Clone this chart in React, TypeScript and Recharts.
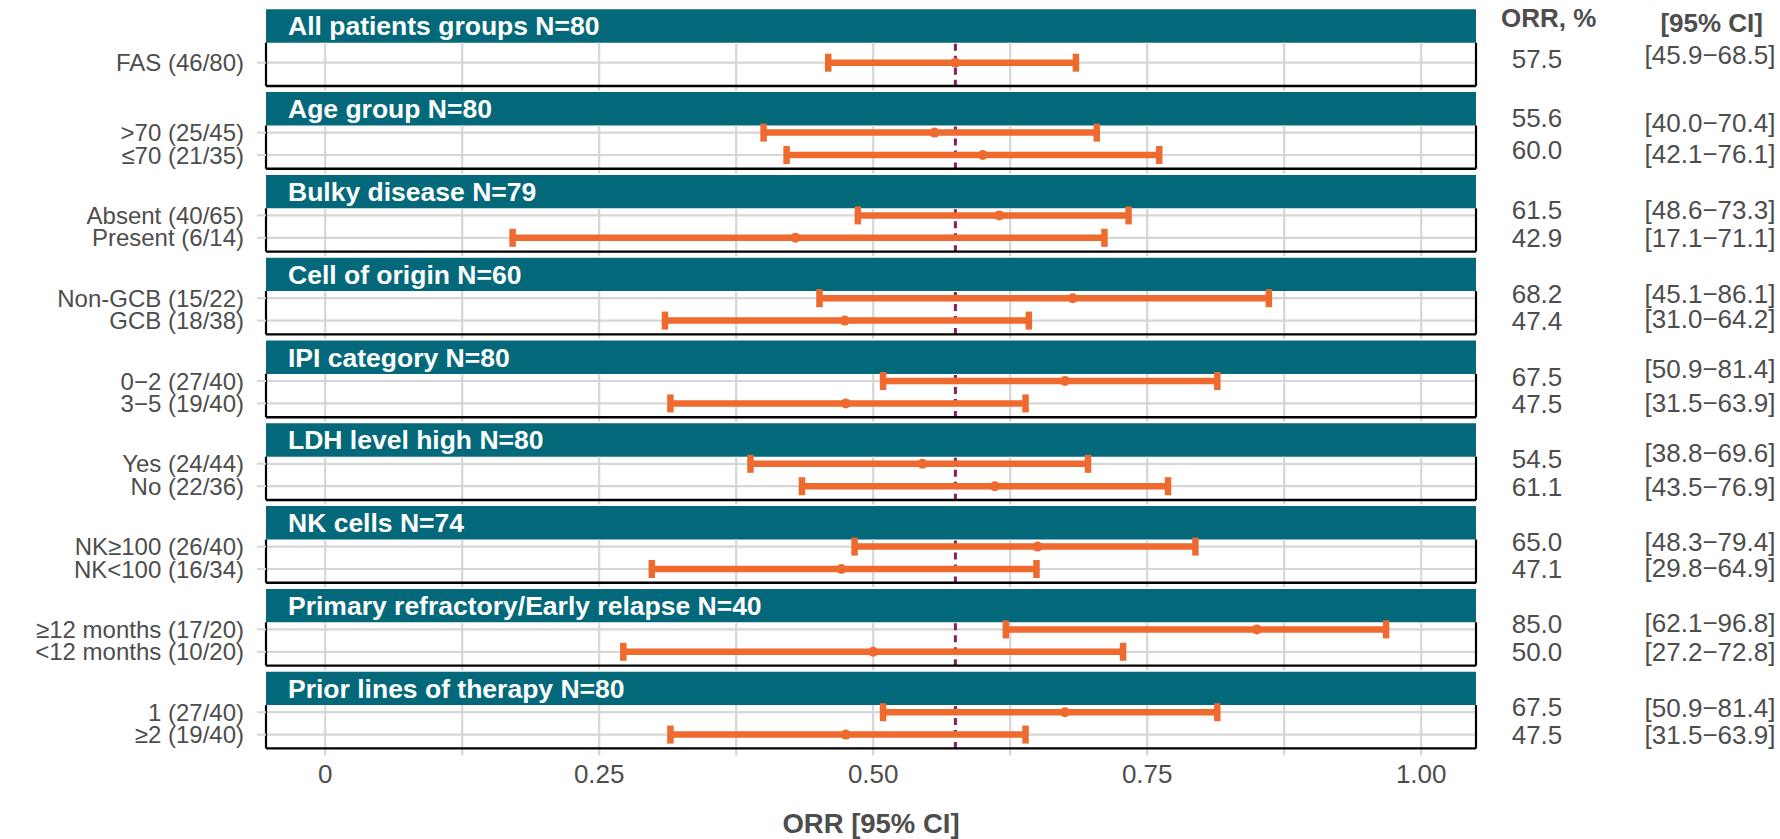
import React from 'react';
import {
  ComposedChart,
  XAxis,
  YAxis,
  Scatter,
  ErrorBar,
  ReferenceLine,
  ReferenceArea,
} from 'recharts';

// ---------------- data ----------------
const groupTitles = [
  'All patients groups N=80',
  'Age group N=80',
  'Bulky disease N=79',
  'Cell of origin N=60',
  'IPI category N=80',
  'LDH level high N=80',
  'NK cells N=74',
  'Primary refractory/Early relapse N=40',
  'Prior lines of therapy N=80',
];
const rowGroup = [0, 1, 1, 2, 2, 3, 3, 4, 4, 5, 5, 6, 6, 7, 7, 8, 8];
const rowLabels = [
  'FAS (46/80)',
  '>70 (25/45)',
  '≤70 (21/35)',
  'Absent (40/65)',
  'Present (6/14)',
  'Non-GCB (15/22)',
  'GCB (18/38)',
  '0−2 (27/40)',
  '3−5 (19/40)',
  'Yes (24/44)',
  'No (22/36)',
  'NK≥100 (26/40)',
  'NK<100 (16/34)',
  '≥12 months (17/20)',
  '<12 months (10/20)',
  '1 (27/40)',
  '≥2 (19/40)',
];
const orrPct = [57.5, 55.6, 60.0, 61.5, 42.9, 68.2, 47.4, 67.5, 47.5, 54.5, 61.1, 65.0, 47.1, 85.0, 50.0, 67.5, 47.5];
const ciLowPct = [45.9, 40.0, 42.1, 48.6, 17.1, 45.1, 31.0, 50.9, 31.5, 38.8, 43.5, 48.3, 29.8, 62.1, 27.2, 50.9, 31.5];
const ciHighPct = [68.5, 70.4, 76.1, 73.3, 71.1, 86.1, 64.2, 81.4, 63.9, 69.6, 76.9, 79.4, 64.9, 96.8, 72.8, 81.4, 63.9];
const xTicks = [0, 0.25, 0.5, 0.75, 1];
const xTickLabels = ['0', '0.25', '0.50', '0.75', '1.00'];
const xMinorTicks = [0.125, 0.375, 0.625, 0.875];
const overallOrr = 0.575;

// ---------------- layout / style ----------------
const FONT = '"Liberation Sans", Arial, Helvetica, sans-serif';
const TEXT = '#4D4D4D';
const GRID = '#D6D6D6';
const TEAL = '#03697A';
const ORANGE = '#EE6A2E';
const PURPLE = '#8B1C5E';

const W = 1780;
const H = 839;
const TOP = 9.3;
const LEFT_W = 266;
const RIGHT_W = 304;
const PANEL_STEP = 82.8;
const STRIP_H = 33.4;
const BODY_H = 43.3;
const PLOT_H = 8 * PANEL_STEP + STRIP_H + BODY_H;
const X_AXIS_H = H - TOP - PLOT_H;
const X_MIN = -0.054;
const X_MAX = 1.05;

const ROW_OFF_SINGLE = 20;
const ROW_OFF_DOUBLE = [7.1, 29.5];

// vertical nudges of the table text relative to its row (px)
const orrNudge = [-4.4, -15.3, -5, -6, 0, -4.3, 0, -4.3, 0, -5.4, 0, -5.4, 0, -5.4, 0, -5.4, 0];
const ciNudge = [-7.7, -9.7, -1, -6, 0, -4.3, -2.3, -12.2, -1.1, -11.1, 0, -5.4, -1.1, -6.5, 0, -4.3, 0];

const panelTop = (g: number) => g * PANEL_STEP;
const bodyTop = (g: number) => panelTop(g) + STRIP_H;
const bodyBottom = (g: number) => bodyTop(g) + BODY_H;

const rowY: number[] = rowLabels.map((_, i) => {
  const g = rowGroup[i];
  const members = rowGroup.map((gg, j) => (gg === g ? j : -1)).filter((j) => j >= 0);
  const pos = members.indexOf(i);
  if (members.length === 1) return bodyTop(g) + ROW_OFF_SINGLE;
  return bodyTop(g) + ROW_OFF_DOUBLE[pos];
});

const points = rowLabels.map((label, i) => {
  const est = orrPct[i] / 100;
  const lo = ciLowPct[i] / 100;
  const hi = ciHighPct[i] / 100;
  return { label, y: rowY[i], est, err: [est - lo, hi - est] };
});

const XTick = (props: any) => {
  const { x, payload, index } = props;
  const i = typeof index === 'number' ? index : xTicks.indexOf(payload.value);
  return (
    <text x={x} y={782.7} textAnchor="middle" fill={TEXT} fontSize={26} fontFamily={FONT}>
      {xTickLabels[i] ?? String(payload.value)}
    </text>
  );
};

const RightTick = (props: any) => {
  const { y, payload, index } = props;
  let i = rowY.indexOf(payload?.value);
  if (i < 0) i = index;
  const fs = 26;
  return (
    <g>
      {i === 0 && (
        <g>
          <text x={1548.7} y={26.7} textAnchor="middle" fill={TEXT} fontSize={26} fontWeight="bold" fontFamily={FONT}>
            ORR, %
          </text>
          <text x={1711.7} y={31.5} textAnchor="middle" fill={TEXT} fontSize={26} fontWeight="bold" fontFamily={FONT}>
            [95% CI]
          </text>
        </g>
      )}
      <text x={1537} y={y + orrNudge[i] + 0.358 * fs} textAnchor="middle" fill={TEXT} fontSize={fs} fontFamily={FONT}>
        {orrPct[i].toFixed(1)}
      </text>
      <text x={1710} y={y + ciNudge[i] + 0.358 * fs} textAnchor="middle" fill={TEXT} fontSize={fs} fontFamily={FONT}>
        {`[${ciLowPct[i].toFixed(1)}−${ciHighPct[i].toFixed(1)}]`}
      </text>
    </g>
  );
};

const Dot = (props: any) => {
  const { cx, cy } = props;
  if (cx == null || cy == null) return null;
  return <circle cx={cx} cy={cy} r={5} fill={ORANGE} />;
};

export default function App() {
  const groups = groupTitles.map((_, g) => g);
  const gridXs = [...xTicks, ...xMinorTicks];
  return (
    <div style={{ position: 'absolute', left: 0, top: 0, width: W, height: H, background: '#fff' }}>
      <ComposedChart width={W} height={H} margin={{ top: TOP, right: 0, bottom: 0, left: 0 }}>
        <XAxis
          type="number"
          dataKey="est"
          domain={[X_MIN, X_MAX]}
          allowDataOverflow
          ticks={xTicks}
          interval={0}
          axisLine={false}
          tickLine={false}
          height={X_AXIS_H}
          tick={<XTick />}
          label={{
            value: 'ORR [95% CI]',
            position: 'insideBottom',
            offset: 6,
            fill: TEXT,
            fontSize: 27.5,
            fontWeight: 'bold',
            fontFamily: FONT,
          }}
        />
        <YAxis
          yAxisId="left"
          type="number"
          dataKey="y"
          domain={[0, PLOT_H]}
          reversed
          allowDataOverflow
          ticks={rowY}
          interval={0}
          width={LEFT_W}
          axisLine={false}
          tickSize={9}
          tickMargin={13}
          tickLine={{ stroke: GRID, strokeWidth: 2 }}
          tick={{ fill: TEXT, fontSize: 24, fontFamily: FONT }}
          tickFormatter={(v: number, idx: number) => {
            const k = rowY.indexOf(v);
            return rowLabels[k >= 0 ? k : idx];
          }}
        />
        <YAxis
          yAxisId="right"
          orientation="right"
          type="number"
          dataKey="y"
          domain={[0, PLOT_H]}
          reversed
          allowDataOverflow
          ticks={rowY}
          interval={0}
          width={RIGHT_W}
          axisLine={false}
          tickLine={false}
          tick={<RightTick />}
        />

        {/* strips */}
        {groups.map((g) => (
          <ReferenceArea
            key={`strip-${g}`}
            yAxisId="left"
            x1={X_MIN}
            x2={X_MAX}
            y1={panelTop(g)}
            y2={panelTop(g) + STRIP_H}
            fill={TEAL}
            fillOpacity={1}
            stroke="none"
            ifOverflow="visible"
            label={{
              value: groupTitles[g],
              position: 'insideLeft',
              offset: 22,
              fill: '#FFFFFF',
              fontSize: 26.5,
              fontWeight: 'bold',
              fontFamily: FONT,
            }}
          />
        ))}

        {/* vertical grid lines inside each panel body */}
        {groups.map((g) =>
          gridXs.map((v) => (
            <ReferenceLine
              key={`vg-${g}-${v}`}
              yAxisId="left"
              ifOverflow="visible"
              segment={[
                { x: v, y: bodyTop(g) },
                { x: v, y: bodyBottom(g) + (g === groups.length - 1 ? 7 : 4.5) },
              ]}
              stroke={GRID}
              strokeWidth={2.2}
            />
          ))
        )}

        {/* horizontal row grid lines */}
        {rowY.map((y, i) => (
          <ReferenceLine
            key={`hg-${i}`}
            yAxisId="left"
            ifOverflow="visible"
            segment={[
              { x: X_MIN, y },
              { x: X_MAX, y },
            ]}
            stroke={GRID}
            strokeWidth={2.2}
          />
        ))}

        {/* reference (overall ORR) dashed line */}
        {groups.map((g) => (
          <ReferenceLine
            key={`ref-${g}`}
            yAxisId="left"
            ifOverflow="visible"
            segment={[
              { x: overallOrr, y: bodyTop(g) + 1 },
              { x: overallOrr, y: bodyBottom(g) },
            ]}
            stroke={PURPLE}
            strokeWidth={3}
            strokeDasharray="7 5"
          />
        ))}

        {/* panel borders */}
        {groups.map((g) => (
          <ReferenceLine
            key={`bl-${g}`}
            yAxisId="left"
            ifOverflow="visible"
            segment={[
              { x: X_MIN, y: bodyTop(g) },
              { x: X_MIN, y: bodyBottom(g) },
            ]}
            stroke="#000"
            strokeWidth={2.2}
          />
        ))}
        {groups.map((g) => (
          <ReferenceLine
            key={`br-${g}`}
            yAxisId="left"
            ifOverflow="visible"
            segment={[
              { x: X_MAX, y: bodyTop(g) },
              { x: X_MAX, y: bodyBottom(g) },
            ]}
            stroke="#000"
            strokeWidth={2.2}
          />
        ))}
        {groups.map((g) => (
          <ReferenceLine
            key={`bb-${g}`}
            yAxisId="left"
            ifOverflow="visible"
            segment={[
              { x: X_MIN, y: bodyBottom(g) },
              { x: X_MAX, y: bodyBottom(g) },
            ]}
            stroke="#000"
            strokeWidth={2.4}
          />
        ))}

        <Scatter
          yAxisId="left"
          data={points}
          dataKey="y"
          shape={<Dot />}
          fill={ORANGE}
          isAnimationActive={false}
        >
          <ErrorBar
            dataKey="err"
            direction="x"
            width={9}
            stroke={ORANGE}
            strokeWidth={6.5}
            isAnimationActive={false}
          />
        </Scatter>
      </ComposedChart>
    </div>
  );
}
